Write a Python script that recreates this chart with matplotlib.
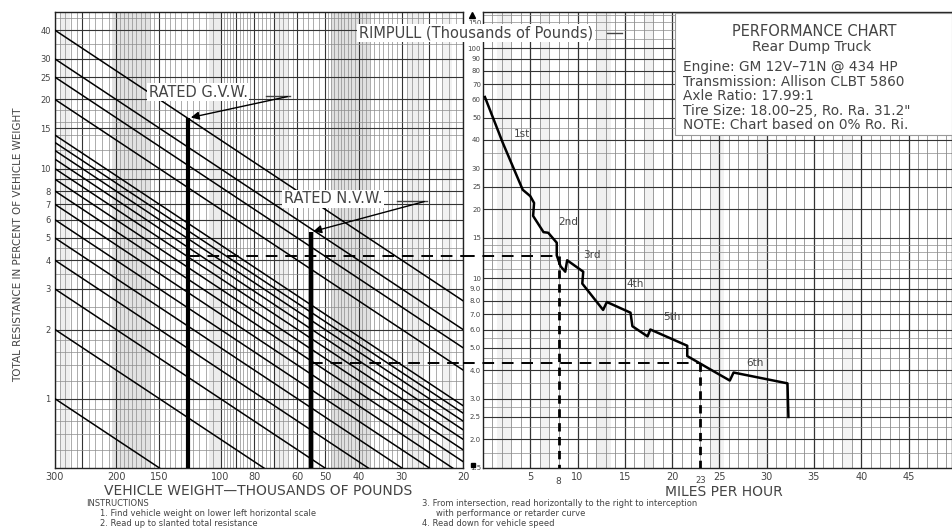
import numpy as np
import matplotlib.pyplot as plt
from matplotlib.lines import Line2D
from matplotlib.patches import Rectangle
from matplotlib.ticker import FixedLocator, FixedFormatter, NullLocator

W_PX, H_PX = 952, 529

# --- data ---
# slanted lines: total resistance (%) where each line starts at 300k lb
resistance_start = [40, 30, 25, 20, 14, 13, 12, 11, 10, 9, 8, 7, 6, 5, 4, 3, 2, 1]
weight_ticks = [300, 200, 150, 100, 80, 60, 50, 40, 30, 20]
resistance_ticks = [1, 2, 3, 4, 5, 6, 7, 8, 10, 15, 20, 25, 30, 40]

rimpull_ticks = [1.5, 2, 2.5, 3, 4, 5, 6, 7, 8, 9, 10, 15, 20, 25, 30, 40, 50, 60, 70, 80, 90, 100]
rimpull_labels = ["1.5", "2.0", "2.5", "3.0", "4.0", "5.0", "6.0", "7.0", "8.0", "9.0", "10",
                  "15", "20", "25", "30", "40", "50", "60", "70", "80", "90", "100"]
mph_ticks = [5, 10, 15, 20, 25, 30, 35, 40, 45]

# rimpull curve (mph, thousands of lb)
curve_mph = [0.2, 2.1, 4.2, 5.0, 5.4, 5.3, 6.4, 6.9, 7.8, 7.8, 8.2, 8.7, 8.9, 10.6, 10.5,
             12.7, 13.1, 15.6, 15.8, 17.4, 17.7, 21.6, 21.6, 23.7, 26.1, 26.5, 32.2, 32.3]
curve_rimpull = [61.5, 38.8, 24.3, 22.8, 21.3, 18.7, 15.9, 15.8, 14.3, 12.6, 11.3, 10.7, 12.0, 10.7, 9.5,
                 7.3, 7.9, 7.1, 6.2, 5.6, 6.0, 5.1, 4.6, 4.1, 3.6, 3.9, 3.5, 2.5]

gear_names = ["1st", "2nd", "3rd", "4th", "5th", "6th"]
gear_mph = [4.1, 9.0, 11.5, 16.1, 20.0, 28.8]
gear_rimpull = [42.5, 17.6, 12.6, 9.5, 6.8, 4.3]

gvw_weight, gvw_top = 124, 16.6
nvw_weight, nvw_top = 55, 5.3
# example readings: (resistance %, rimpull, speed)
read_gvw = (4.18, 12.5, 8)
read_nvw = (1.43, 4.3, 23)

TXT = "#444444"


def fx(px):
    return px / W_PX


def fy(py):
    return 1 - py / H_PX


fig = plt.figure(figsize=(9.52, 5.29), dpi=100)

# ---------------- left panel: weight vs resistance ----------------
ax1 = fig.add_axes([fx(55), fy(468), 408 / W_PX, 456 / H_PX])
ax1.set_xscale("log")
ax1.set_yscale("log")
ax1.set_xlim(300, 20)
ax1.set_ylim(0.5, 48)

for a, b, al in [(290, 272, 0.15), (205, 160, 0.28), (108, 99, 0.18), (70, 64, 0.15),
                 (48, 37, 0.3), (29, 26, 0.15), (23, 21.5, 0.12)]:
    ax1.axvspan(a, b, color="#9a9a9a", alpha=al, lw=0, zorder=0)

wgrid = np.r_[np.arange(20, 50, 1), np.arange(50, 100, 2), np.arange(100, 200, 5), np.arange(200, 301, 10)]
ax1.vlines(wgrid, 0.5, 48, color="#8c8c8c", lw=0.5, zorder=1)
ax1.vlines([20, 25, 30, 40, 50, 60, 70, 80, 90, 100, 150, 200, 250, 300], 0.5, 48,
           color="#333333", lw=0.8, zorder=1)
rgrid = [0.6, 0.7, 0.8, 0.9, 1.2, 1.4, 1.6, 1.8, 2.5, 3.5, 4.5, 12, 14, 16, 18, 35, 45]
ax1.hlines(rgrid, 20, 300, color="#8c8c8c", lw=0.5, zorder=1)
ax1.hlines([1, 2, 3, 4, 5, 6, 7, 8, 9, 10, 15, 20, 25, 30, 40], 20, 300, color="#333333", lw=0.8, zorder=1)

for r in resistance_start:
    ax1.plot([300, 20], [r, r * 20 / 300], color="black", lw=1.1, zorder=3)

ax1.vlines(gvw_weight, 0.5, gvw_top, color="black", lw=3, zorder=4)
ax1.vlines(nvw_weight, 0.5, nvw_top, color="black", lw=3, zorder=4)

ax1.text(116, 21.5, "RATED G.V.W.", ha="center", va="center", fontsize=10.5, color=TXT,
         bbox=dict(fc="white", ec="none", pad=1), zorder=6)
ax1.plot([74, 63], [20.7, 20.7], color=TXT, lw=1, zorder=6)
ax1.annotate("", xy=(gvw_weight, gvw_top), xytext=(63, 20.7),
             arrowprops=dict(arrowstyle="-|>", color="black", lw=1, mutation_scale=12), zorder=6)
ax1.text(47.4, 7.4, "RATED N.V.W.", ha="center", va="center", fontsize=10.5, color=TXT,
         bbox=dict(fc="white", ec="none", pad=1), zorder=6)
ax1.plot([31, 25.4], [7.25, 7.25], color=TXT, lw=1, zorder=6)
ax1.annotate("", xy=(nvw_weight, nvw_top), xytext=(25.4, 7.25),
             arrowprops=dict(arrowstyle="-|>", color="black", lw=1, mutation_scale=12), zorder=6)

ax1.plot([gvw_weight, 20], [read_gvw[0]] * 2, color="black", lw=1.4, dashes=(6, 4), zorder=5)
ax1.plot([nvw_weight, 20], [read_nvw[0]] * 2, color="black", lw=1.4, dashes=(6, 4), zorder=5)

ax1.xaxis.set_major_locator(FixedLocator(weight_ticks))
ax1.xaxis.set_major_formatter(FixedFormatter([str(v) for v in weight_ticks]))
ax1.xaxis.set_minor_locator(NullLocator())
ax1.yaxis.set_major_locator(FixedLocator(resistance_ticks))
ax1.yaxis.set_major_formatter(FixedFormatter([str(v) for v in resistance_ticks]))
ax1.yaxis.set_minor_locator(NullLocator())
ax1.tick_params(axis="x", length=0, pad=3, labelsize=7, labelcolor=TXT)
ax1.tick_params(axis="y", length=0, pad=3, labelsize=6, labelcolor=TXT)
for s in ax1.spines.values():
    s.set_color("#222222")
    s.set_linewidth(1)

# ---------------- right panel: rimpull vs speed ----------------
ax2 = fig.add_axes([fx(483), fy(468), 469 / W_PX, 456 / H_PX])
ax2.set_yscale("log")
ax2.set_xlim(0, 49.6)
ax2.set_ylim(1.5, 144)

for a, b, al in [(1.5, 3, 0.12), (6, 7, 0.12), (12, 13.5, 0.15), (17, 18, 0.12),
                 (24, 25.5, 0.12), (29, 30, 0.1), (38, 39, 0.1)]:
    ax2.axvspan(a, b, color="#9a9a9a", alpha=al, lw=0, zorder=0)

ax2.vlines(np.arange(1, 50, 1), 1.5, 144, color="#8c8c8c", lw=0.6, zorder=1)
ax2.vlines(np.arange(5, 50, 5), 1.5, 144, color="#333333", lw=0.9, zorder=1)
hgrid = [1.75, 2.25, 2.75, 3.5, 4.5, 5.5, 11, 12, 13, 14, 35, 45, 110, 120, 130, 140]
ax2.hlines(hgrid, 0, 49.6, color="#8c8c8c", lw=0.5, zorder=1)
ax2.hlines([2, 2.5, 3, 4, 5, 6, 7, 8, 9, 10, 15, 20, 25, 30, 40, 50, 60, 70, 80, 90, 100],
           0, 49.6, color="#333333", lw=0.8, zorder=1)

ax2.plot(curve_mph, curve_rimpull, color="black", lw=1.8, zorder=4)
for name, m, r in zip(gear_names, gear_mph, gear_rimpull):
    ax2.text(m, r, name, ha="center", va="center", fontsize=7.5, color=TXT, zorder=5)

ax2.plot([-2.1, read_gvw[2]], [read_gvw[1]] * 2, color="black", lw=1.4, dashes=(6, 4),
         clip_on=False, zorder=5)
ax2.plot([-2.1, read_nvw[2]], [read_nvw[1]] * 2, color="black", lw=1.4, dashes=(6, 4),
         clip_on=False, zorder=5)
ax2.plot([read_gvw[2]] * 2, [read_gvw[1], 1.5], color="black", lw=2, dashes=(3, 2), zorder=5)
ax2.plot([read_nvw[2]] * 2, [read_nvw[1], 1.5], color="black", lw=2, dashes=(3, 2), zorder=5)

xt = ax2.get_xaxis_transform()
ax2.text(read_gvw[2], -0.03, "8", transform=xt, ha="center", va="center", fontsize=6.5, color=TXT)
ax2.text(read_nvw[2], -0.028, "23", transform=xt, ha="center", va="center", fontsize=6, color=TXT)

ax2.plot(-1.15, 140, marker="^", ms=4, color="black", clip_on=False, zorder=6)
ax2.plot(-1.05, 1.55, marker="s", ms=3, color="black", clip_on=False, zorder=6)
ax2.text(-0.15, 129, "150", ha="right", va="center", fontsize=5, color=TXT)

ax2.xaxis.set_major_locator(FixedLocator(mph_ticks))
ax2.xaxis.set_major_formatter(FixedFormatter([str(v) for v in mph_ticks]))
ax2.yaxis.set_major_locator(FixedLocator(rimpull_ticks))
ax2.yaxis.set_major_formatter(FixedFormatter(rimpull_labels))
ax2.yaxis.set_minor_locator(NullLocator())
ax2.tick_params(axis="x", length=0, pad=3, labelsize=7, labelcolor=TXT)
ax2.tick_params(axis="y", length=0, pad=1.5, labelsize=5, labelcolor=TXT)
for s in ax2.spines.values():
    s.set_color("#222222")
    s.set_linewidth(1)

# ---------------- labels and notes ----------------
fig.text(fx(476), fy(33), "RIMPULL (Thousands of Pounds)", ha="center", va="center",
         fontsize=10.5, color=TXT, bbox=dict(fc="white", ec="none", pad=1), zorder=7)
fig.add_artist(Line2D([fx(607), fx(622)], [fy(33)] * 2, color=TXT, lw=1, zorder=7))

fig.add_artist(Rectangle((fx(675), fy(135)), fx(952) - fx(675), (135 - 13) / H_PX,
                         transform=fig.transFigure, fc="white", ec="#999999", lw=0.8, zorder=6))
fig.text(fx(814), fy(31), "PERFORMANCE CHART", ha="center", va="center", fontsize=10.5, color=TXT, zorder=7)
fig.text(fx(812), fy(47), "Rear Dump Truck", ha="center", va="center", fontsize=10, color=TXT, zorder=7)
info_lines = ["Engine: GM 12V\u201371N @ 434 HP", "Transmission: Allison CLBT 5860",
              "Axle Ratio: 17.99:1", "Tire Size: 18.00\u201325, Ro. Ra. 31.2\"",
              "NOTE: Chart based on 0% Ro. Ri."]
for i, line in enumerate(info_lines):
    fig.text(fx(683), fy(67 + i * 14.6), line, ha="left", va="center", fontsize=9.8, color=TXT, zorder=7)

fig.text(fx(18), fy(245), "TOTAL RESISTANCE IN PERCENT OF VEHICLE WEIGHT", rotation=90,
         ha="center", va="center", fontsize=7.5, color=TXT)
fig.text(fx(258), fy(491), "VEHICLE WEIGHT\u2014THOUSANDS OF POUNDS", ha="center", va="center",
         fontsize=10, color=TXT)
fig.text(fx(724), fy(492), "MILES PER HOUR", ha="center", va="center", fontsize=10, color=TXT)

fig.text(fx(86), fy(504), "INSTRUCTIONS", ha="left", va="center", fontsize=6, color=TXT)
fig.text(fx(100), fy(514), "1. Find vehicle weight on lower left horizontal scale", ha="left",
         va="center", fontsize=6, color=TXT)
fig.text(fx(100), fy(523.5), "2. Read up to slanted total resistance", ha="left", va="center",
         fontsize=6, color=TXT)
fig.text(fx(422), fy(504), "3. From intersection, read horizontally to the right to interception",
         ha="left", va="center", fontsize=6, color=TXT)
fig.text(fx(436), fy(514), "with performance or retarder curve", ha="left", va="center",
         fontsize=6, color=TXT)
fig.text(fx(422), fy(523.5), "4. Read down for vehicle speed", ha="left", va="center", fontsize=6, color=TXT)

fig.savefig("out.png", dpi=100)
